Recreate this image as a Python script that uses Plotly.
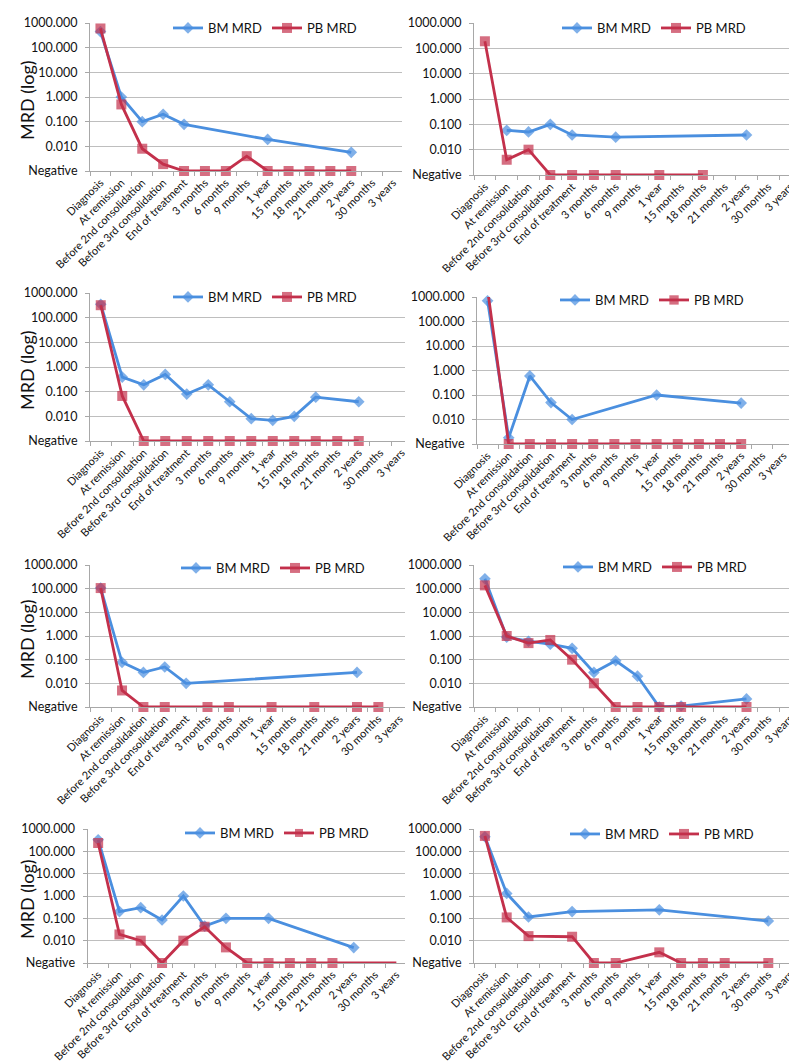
import plotly.graph_objects as go

# ---------------- data ----------------
categories = ["Diagnosis", "At remission", "Before 2nd consolidation",
              "Before 3rd consolidation", "End of treatment", "3 months",
              "6 months", "9 months", "1 year", "15 months", "18 months",
              "21 months", "2 years", "30 months", "3 years"]

y_tickvals = [0.001, 0.01, 0.1, 1, 10, 100, 1000]
y_ticktext = ["Negative", "0.010", "0.100", "1.000", "10.000", "100.000", "1000.000"]

NEG = 0.001   # "Negative" plotted at the bottom of the log axis
N = None

p1_bm = [450, 1.0, 0.1, 0.2, 0.078, N, N, N, 0.019, N, N, N, 0.0057, N, N]
p1_pb = [600, 0.5, 0.008, 0.0019, NEG, NEG, NEG, 0.004, NEG, NEG, NEG, NEG, NEG, N, N]

p2_bm = [N, 0.058, 0.05, 0.1, 0.038, N, 0.031, N, N, N, N, N, 0.038, N, N]
p2_pb = [190, 0.004, 0.01, NEG, NEG, NEG, NEG, N, NEG, N, NEG, N, N, N, N]

p3_bm = [350, 0.39, 0.19, 0.5, 0.08, 0.19, 0.039, 0.008, 0.0069, 0.01, 0.06, N, 0.039, N, N]
p3_pb = [320, 0.067, NEG, NEG, NEG, NEG, NEG, NEG, NEG, NEG, NEG, NEG, NEG, N, N]

p4_bm = [700, 0.0018, 0.6, 0.049, 0.01, N, N, N, 0.1, N, N, N, 0.047, N, N]
p4_pb = [2000, NEG, NEG, NEG, NEG, NEG, NEG, NEG, NEG, NEG, NEG, NEG, NEG, N, N]

p5_bm = [106, 0.077, 0.029, 0.049, 0.01, N, N, N, N, N, N, N, 0.029, N, N]
p5_pb = [106, 0.005, NEG, NEG, N, NEG, NEG, N, NEG, N, NEG, N, NEG, NEG, N]

p6_bm = [260, 0.9, 0.6, 0.45, 0.3, 0.029, 0.09, 0.02, NEG, 0.0011, N, N, 0.0022, N, N]
p6_pb = [138, 1.0, 0.5, 0.68, 0.1, 0.01, NEG, NEG, NEG, NEG, N, N, NEG, N, N]

p7_bm = [330, 0.2, 0.3, 0.084, 1.0, 0.045, 0.1, N, 0.1, N, N, N, 0.0049, N, N]
p7_pb = [236, 0.019, 0.01, NEG, 0.01, 0.042, 0.005, NEG, NEG, NEG, NEG, NEG, NEG, NEG, NEG]
p7_pb_marked = [1, 1, 1, 1, 1, 1, 1, 1, 1, 1, 1, 1, 0, 0, 0]

p8_bm = [450, 1.3, 0.115, N, 0.2, N, N, N, 0.24, N, N, N, N, 0.076, N]
p8_pb = [490, 0.11, 0.016, N, 0.015, NEG, NEG, N, 0.003, NEG, NEG, NEG, N, NEG, N]

bm_series = [p1_bm, p2_bm, p3_bm, p4_bm, p5_bm, p6_bm, p7_bm, p8_bm]
pb_series = [p1_pb, p2_pb, p3_pb, p4_pb, p5_pb, p6_pb, p7_pb, p8_pb]

# ---------------- layout geometry (pixels) ----------------
W, H = 797, 1061
Y_MAX = 1000
# left, right, category spacing, top, bottom of each plot area
geom = [
    (82, 394, 20.9, 15, 163),
    (466, 787, 21.8, 15, 167),
    (82, 397, 21.5, 285, 433),
    (469, 786, 21.06, 289, 436),
    (82, 397, 21.36, 557, 699),
    (466, 787, 21.8, 557, 699),
    (79.5, 397, 21.3, 821, 955),
    (466, 788, 21.8, 821, 955),
]
legend_pos = [(180, 28), (569, 28), (180, 297), (567, 300),
              (188, 568), (570, 567), (192, 833), (577, 834)]

BM_COLOR = "#4A8FDF"
PB_COLOR = "#C3304B"
GRID = "#BEBEBE"
AXIS = "#A8A8A8"
FONT = "Lato"


def sizes(values, base, marked=None):
    # hide only off-scale points and points drawn without a marker
    out = []
    for j, v in enumerate(values):
        hide = (v is not None and v > Y_MAX) or (marked is not None and not marked[j])
        out.append(0 if hide else base)
    return out


fig = go.Figure()
layout = dict(template="none", width=W, height=H,
              margin=dict(l=0, r=0, t=0, b=0, autoexpand=False),
              paper_bgcolor="white", plot_bgcolor="white",
              font=dict(family=FONT, color="#111111"), showlegend=True,
              hovermode=False)
annotations = []

for i in range(8):
    k = i + 1
    sfx = "" if k == 1 else str(k)
    left, right, sp, top, bottom = geom[i]
    rng_end = min(14.5, -0.5 + (right - left) / sp)
    xa = "x" + sfx
    ya = "y" + sfx
    lg = "legend" + sfx

    marked = p7_pb_marked if i == 6 else None

    fig.add_trace(go.Scatter(
        x=categories, y=bm_series[i], name="BM MRD", mode="lines+markers",
        connectgaps=True, xaxis=xa, yaxis=ya, legend=lg, cliponaxis=False,
        line=dict(color=BM_COLOR, width=2.8),
        marker=dict(symbol="diamond", size=sizes(bm_series[i], 9),
                    color=BM_COLOR, line=dict(width=0))))
    fig.add_trace(go.Scatter(
        x=categories, y=pb_series[i], name="PB MRD", mode="lines+markers",
        connectgaps=True, xaxis=xa, yaxis=ya, legend=lg, cliponaxis=False,
        line=dict(color=PB_COLOR, width=2.8),
        marker=dict(symbol="square", size=sizes(pb_series[i], 10, marked),
                    color=PB_COLOR, line=dict(width=0))))

    layout["xaxis" + sfx] = dict(
        domain=[left / W, right / W], anchor=ya, type="category",
        categoryorder="array", categoryarray=categories,
        range=[-0.5, rng_end], showgrid=False, showline=True,
        linecolor=AXIS, linewidth=1, ticks="outside", tickson="boundaries",
        ticklen=4, tickcolor=AXIS, tickangle=-45, automargin=False,
        tickfont=dict(family=FONT, size=11, color="#111111"),
        zeroline=False, fixedrange=True)
    layout["yaxis" + sfx] = dict(
        domain=[1 - bottom / H, 1 - top / H], anchor=xa, type="log",
        range=[-3, 3], tickvals=y_tickvals, ticktext=y_ticktext,
        showgrid=True, gridcolor=GRID, gridwidth=1, showline=True,
        linecolor=AXIS, linewidth=1, ticks="outside", ticklen=4,
        tickcolor=AXIS, automargin=False, ticklabelstandoff=5,
        tickfont=dict(family=FONT, size=12.5, color="#111111"),
        zeroline=False, fixedrange=True)
    lx, ly = legend_pos[i]
    layout[lg] = dict(x=(lx - 20) / W, y=1 - (ly - 8) / H, xanchor="left",
                      yanchor="middle", orientation="h",
                      bgcolor="rgba(0,0,0,0)", borderwidth=0,
                      font=dict(family=FONT, size=13, color="#111111"),
                      itemwidth=30, tracegroupgap=0)
    if i % 2 == 0:
        annotations.append(dict(
            text="MRD (log)", textangle=-90, x=19 / W,
            y=1 - ((top + bottom) / 2 + 3) / H, xref="paper", yref="paper",
            xanchor="center", yanchor="middle", showarrow=False,
            font=dict(family=FONT, size=18, color="#111111")))

layout["annotations"] = annotations
fig.update_layout(**layout)
fig.write_html("out.html")
